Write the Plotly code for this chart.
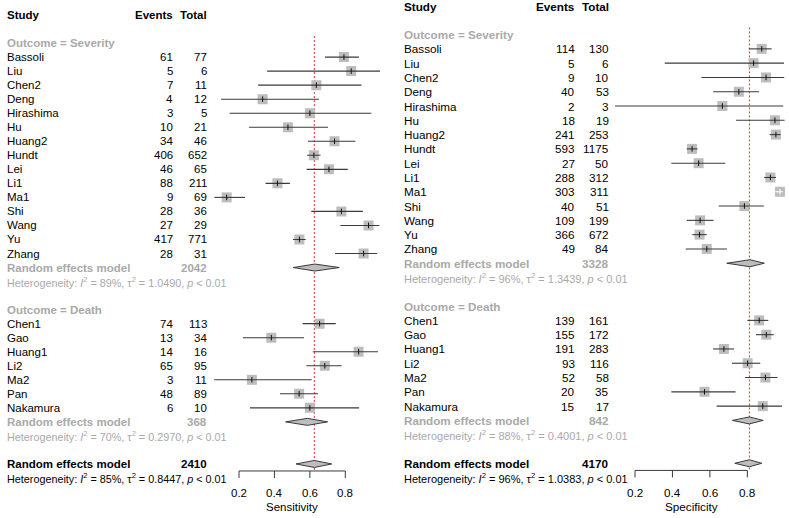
import plotly.graph_objects as go

W, H = 789, 518

# ---------------- data ----------------
sev_studies = ["Bassoli", "Liu", "Chen2", "Deng", "Hirashima", "Hu", "Huang2", "Hundt",
               "Lei", "Li1", "Ma1", "Shi", "Wang", "Yu", "Zhang"]
death_studies = ["Chen1", "Gao", "Huang1", "Li2", "Ma2", "Pan", "Nakamura"]

# Sensitivity panel
sens_sev_events = [61, 5, 7, 4, 3, 10, 34, 406, 46, 88, 9, 28, 27, 417, 28]
sens_sev_total = [77, 6, 11, 12, 5, 21, 46, 652, 65, 211, 69, 36, 29, 771, 31]
sens_sev_lo = [0.685, 0.359, 0.308, 0.099, 0.147, 0.257, 0.589, 0.584, 0.582, 0.350, 0.061, 0.608, 0.772, 0.505, 0.742]
sens_sev_hi = [0.877, 0.996, 0.891, 0.651, 0.947, 0.702, 0.857, 0.660, 0.814, 0.487, 0.234, 0.899, 0.992, 0.576, 0.980]
sens_death_events = [74, 13, 14, 65, 3, 48, 6]
sens_death_total = [113, 34, 16, 95, 11, 89, 10]
sens_death_lo = [0.559, 0.222, 0.617, 0.580, 0.060, 0.431, 0.262]
sens_death_hi = [0.746, 0.567, 0.984, 0.779, 0.610, 0.646, 0.878]
sens_pooled = {"sev": (0.628, 0.506, 0.766), "death": (0.586, 0.463, 0.700), "all": (0.625, 0.522, 0.723)}
sens_n = {"sev": 2042, "death": 368, "all": 2410}
sens_het = {"sev": ("89%", "1.0490"), "death": ("70%", "0.2970"), "all": ("85%", "0.8447")}

# Specificity panel
spec_sev_events = [114, 5, 9, 40, 2, 18, 241, 593, 27, 288, 303, 40, 109, 366, 49]
spec_sev_total = [130, 6, 10, 53, 3, 19, 253, 1175, 50, 312, 311, 51, 199, 672, 84]
spec_sev_lo = [0.808, 0.359, 0.555, 0.618, 0.094, 0.740, 0.919, 0.476, 0.394, 0.890, 0.950, 0.647, 0.476, 0.506, 0.471]
spec_sev_hi = [0.930, 0.996, 0.997, 0.863, 0.992, 0.999, 0.978, 0.534, 0.682, 0.953, 0.989, 0.888, 0.620, 0.583, 0.691]
spec_death_events = [139, 155, 191, 93, 52, 20, 15]
spec_death_total = [161, 172, 283, 116, 58, 35, 17]
spec_death_lo = [0.800, 0.846, 0.617, 0.717, 0.788, 0.394, 0.636]
spec_death_hi = [0.912, 0.941, 0.729, 0.869, 0.961, 0.737, 0.985]
spec_pooled = {"sev": (0.814, 0.690, 0.891), "death": (0.810, 0.720, 0.885), "all": (0.811, 0.733, 0.877)}
spec_n = {"sev": 3328, "death": 842, "all": 4170}
spec_het = {"sev": ("96%", "1.3439"), "death": ("88%", "0.4001"), "all": ("96%", "1.0383")}

tick_vals = [0.2, 0.4, 0.6, 0.8]
tick_text = ["0.2", "0.4", "0.6", "0.8"]

# ---------------- style ----------------
FONT = "Liberation Sans, Arial, Helvetica, sans-serif"
GRAY = "#a9a9a9"
BLACK = "#000000"
LINE = "#3a3a3a"
BOX = "#bdbdbd"
RED = "#e0302c"
BOXPX = 10

fig = go.Figure()

panels = [
    dict(title="Sensitivity", xr="x", yr="y", xa="xaxis", ya="yaxis",
         x0=203.56, ppu=177.2, row0=15.0, rowh=14.03, dom=[0.0, 0.5],
         fs=11.5, fsh=10.8, cx=(6.0, 174.0, 208.0),
         sev=(sens_sev_events, sens_sev_total, sens_sev_lo, sens_sev_hi),
         death=(sens_death_events, sens_death_total, sens_death_lo, sens_death_hi),
         pooled=sens_pooled, n=sens_n, het=sens_het),
    dict(title="Specificity", xr="x2", yr="y2", xa="xaxis2", ya="yaxis2",
         x0=597.56, ppu=187.22, row0=6.0, rowh=14.29, dom=[0.5, 1.0],
         fs=11.7, fsh=11.0, cx=(403.3, 576.0, 610.0),
         sev=(spec_sev_events, spec_sev_total, spec_sev_lo, spec_sev_hi),
         death=(spec_death_events, spec_death_total, spec_death_lo, spec_death_hi),
         pooled=spec_pooled, n=spec_n, het=spec_het),
]


def txt(text, xpx, row, yref, anchor, size, color):
    fig.add_annotation(x=xpx / W, xref="paper", y=row, yref=yref, text=text,
                       showarrow=False, xanchor=anchor, yanchor="middle", borderpad=0,
                       font=dict(family=FONT, size=size, color=color))


for p in panels:
    xr, yr, fs, fsh = p["xr"], p["yr"], p["fs"], p["fsh"]
    cn, ce, ct = p["cx"]
    rowh = p["rowh"]
    # axis setup: pixel-calibrated ranges
    px0 = p["dom"][0] * W
    px1 = p["dom"][1] * W
    xrange = [(px0 - p["x0"]) / p["ppu"], (px1 - p["x0"]) / p["ppu"]]
    yrange = [(H - p["row0"]) / rowh, (0 - p["row0"]) / rowh]
    fig.update_layout({
        p["xa"]: dict(domain=p["dom"], range=xrange, visible=False, fixedrange=True),
        p["ya"]: dict(domain=[0, 1], range=yrange, visible=False, fixedrange=True,
                      anchor=xr),
    })
    fig.layout[p["xa"]].anchor = yr

    # headers
    txt("<b>Study</b>", cn, 0, yr, "left", fs, BLACK)
    txt("<b>Events</b>", ce, 0, yr, "right", fs, BLACK)
    txt("<b>Total</b>", ct, 0, yr, "right", fs, BLACK)

    groups = [("sev", "Outcome = Severity", sev_studies, p["sev"]),
              ("death", "Outcome = Death", death_studies, p["death"])]
    row = 2
    ci_x, ci_y, ci_wx, ci_wy = [], [], [], []
    bx, by, tx, ty, twx, twy = [], [], [], [], [], []
    dia_rows = []
    for key, label, names, (ev, tot, lo, hi) in groups:
        txt("<b>" + label + "</b>", cn, row, yr, "left", fs, GRAY)
        row += 1
        for i, nm in enumerate(names):
            est = ev[i] / tot[i]
            txt(nm, cn, row, yr, "left", fs, BLACK)
            txt(str(ev[i]), ce, row, yr, "right", fs, BLACK)
            txt(str(tot[i]), ct, row, yr, "right", fs, BLACK)
            bx.append(est)
            by.append(row)
            inside = (hi[i] - lo[i]) * p["ppu"] <= BOXPX
            if inside:
                ci_wx += [lo[i], hi[i], None]
                ci_wy += [row, row, None]
                twx.append(est)
                twy.append(row)
            else:
                ci_x += [lo[i], hi[i], None]
                ci_y += [row, row, None]
                tx.append(est)
                ty.append(row)
            row += 1
        # subgroup pooled
        txt("<b>Random effects model</b>", cn, row, yr, "left", fs, GRAY)
        txt("<b>%d</b>" % p["n"][key], ct, row, yr, "right", fs, GRAY)
        dia_rows.append((row, p["pooled"][key], GRAY))
        row += 1
        i2, t2 = p["het"][key]
        txt("Heterogeneity: <i>I</i><sup>2</sup> = %s, τ<sup>2</sup> = %s, <i>p</i> &lt; 0.01" % (i2, t2),
            cn, row, yr, "left", fsh, GRAY)
        row += 2
    # overall
    txt("<b>Random effects model</b>", cn, row, yr, "left", fs, BLACK)
    txt("<b>%d</b>" % p["n"]["all"], ct, row, yr, "right", fs, BLACK)
    dia_rows.append((row, p["pooled"]["all"], BLACK))
    overall_row = row
    row += 1
    i2, t2 = p["het"]["all"]
    txt("Heterogeneity: <i>I</i><sup>2</sup> = %s, τ<sup>2</sup> = %s, <i>p</i> &lt; 0.01" % (i2, t2),
        cn, row, yr, "left", fsh, BLACK)

    axis_row = overall_row + 0.5

    # reference (pooled) dotted line
    v = p["pooled"]["all"][0]
    fig.add_trace(go.Scatter(x=[v, v], y=[1.5, axis_row], mode="lines", xaxis=xr, yaxis=yr,
                             line=dict(color=RED, width=1, dash="2px,2px"), hoverinfo="skip",
                             showlegend=False))
    # boxes
    fig.add_trace(go.Scatter(x=bx, y=by, mode="markers", xaxis=xr, yaxis=yr,
                             marker=dict(symbol="square", size=BOXPX, color=BOX, line=dict(width=0)),
                             hoverinfo="skip", showlegend=False))
    # CI lines
    fig.add_trace(go.Scatter(x=ci_x, y=ci_y, mode="lines", xaxis=xr, yaxis=yr,
                             line=dict(color=LINE, width=1.1), hoverinfo="skip", showlegend=False))
    fig.add_trace(go.Scatter(x=tx, y=ty, mode="markers", xaxis=xr, yaxis=yr,
                             marker=dict(symbol="line-ns", size=4, line=dict(color="#111111", width=1)),
                             hoverinfo="skip", showlegend=False))
    if ci_wx:
        fig.add_trace(go.Scatter(x=ci_wx, y=ci_wy, mode="lines", xaxis=xr, yaxis=yr,
                                 line=dict(color="white", width=1.1), hoverinfo="skip", showlegend=False))
        fig.add_trace(go.Scatter(x=twx, y=twy, mode="markers", xaxis=xr, yaxis=yr,
                                 marker=dict(symbol="line-ns", size=4, line=dict(color="white", width=1)),
                                 hoverinfo="skip", showlegend=False))
    # diamonds
    hh = 3.5 / rowh
    for r, (est, lo, hi), _c in dia_rows:
        fig.add_trace(go.Scatter(x=[lo, est, hi, est, lo], y=[r, r - hh, r, r + hh, r],
                                 mode="lines", fill="toself", fillcolor=BOX, xaxis=xr, yaxis=yr,
                                 line=dict(color=LINE, width=1), hoverinfo="skip", showlegend=False))
    # x axis (drawn as forest-plot axis)
    tick_len = 7.0 / rowh
    axx = [tick_vals[0], tick_vals[-1], None]
    axy = [axis_row, axis_row, None]
    for t in tick_vals:
        axx += [t, t, None]
        axy += [axis_row, axis_row + tick_len, None]
    fig.add_trace(go.Scatter(x=axx, y=axy, mode="lines", xaxis=xr, yaxis=yr,
                             line=dict(color=LINE, width=1), hoverinfo="skip", showlegend=False))
    for t, lab in zip(tick_vals, tick_text):
        fig.add_annotation(x=t, xref=xr, y=axis_row + 22.0 / rowh, yref=yr, text=lab,
                           showarrow=False, xanchor="center", yanchor="middle", borderpad=0,
                           font=dict(family=FONT, size=fs, color=BLACK))
    fig.add_annotation(x=sum(tick_vals[1:3]) / 2, xref=xr, y=axis_row + 35.8 / rowh, yref=yr,
                       text=p["title"], showarrow=False, xanchor="center", yanchor="middle",
                       borderpad=0, font=dict(family=FONT, size=fs, color=BLACK))

fig.update_layout(width=W, height=H, margin=dict(l=0, r=0, t=0, b=0),
                  paper_bgcolor="white", plot_bgcolor="white", showlegend=False,
                  font=dict(family=FONT))

fig.write_html("out.html", config={"displayModeBar": False},
               post_script="document.body.style.margin='0';document.body.style.overflow='hidden';")
